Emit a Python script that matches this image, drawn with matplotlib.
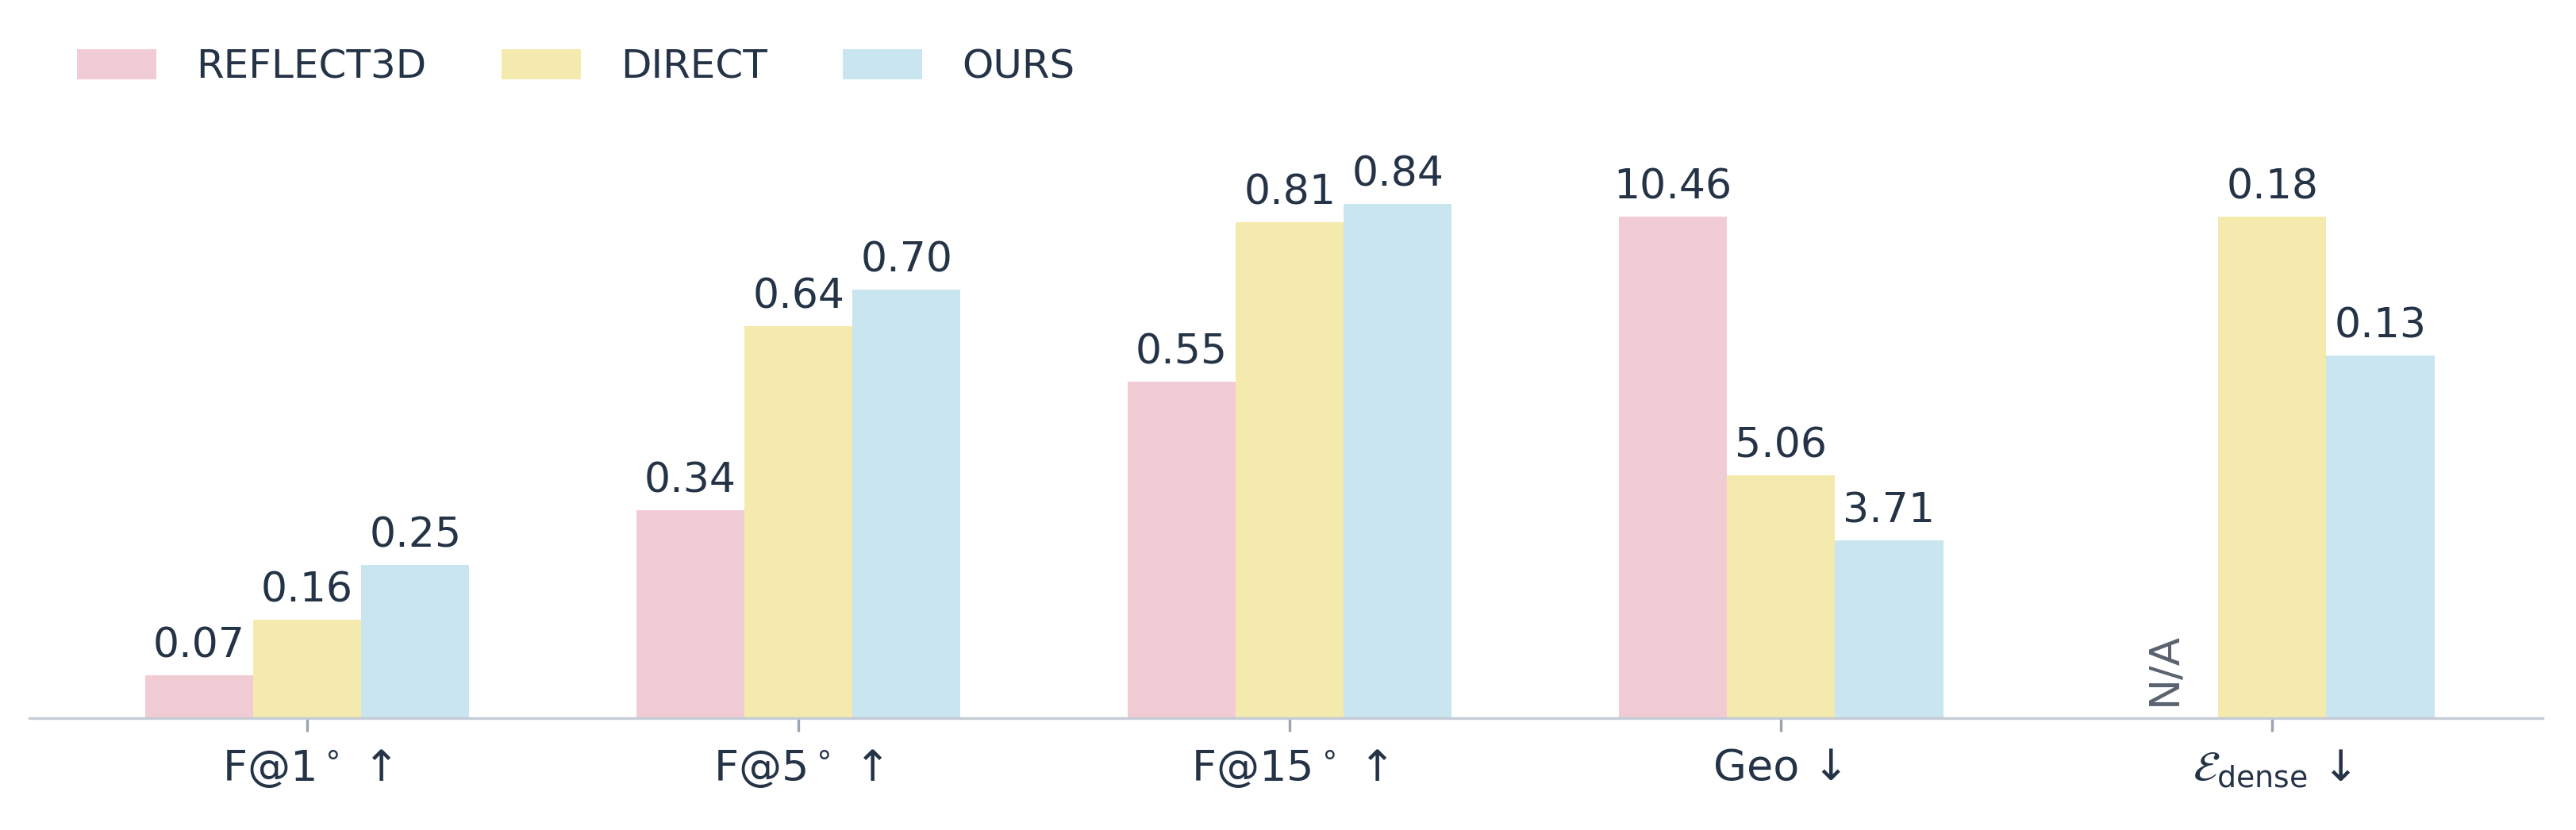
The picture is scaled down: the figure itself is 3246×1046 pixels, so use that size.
import matplotlib
matplotlib.use("Agg")
import matplotlib.pyplot as plt
import numpy as np

categories = [r"F@1$^\circ$ ↑", r"F@5$^\circ$ ↑", r"F@15$^\circ$ ↑", "Geo ↓", r"$\mathcal{E}_{\mathrm{dense}}$ ↓"]
series = ["REFLECT3D", "DIRECT", "OURS"]
reflect3d = [0.07, 0.34, 0.55, 10.46, None]
direct = [0.16, 0.64, 0.81, 5.06, 0.18]
ours = [0.25, 0.70, 0.84, 3.71, 0.13]
labels_fmt = ["{:.2f}"] * 5
# groups drawn on a normalized scale (max shown at 0.82)
normalized = [False, False, False, True, True]
norm_top = 0.82

colors = ["#F2CCD4", "#F4EAAE", "#C9E5EF"]
txt = "#253347"

fig = plt.figure(figsize=(10.82, 3.487), dpi=300)
ax = fig.add_axes([0.0115, 0.135, 0.9755, 0.70])
x = np.arange(len(categories))
w = 0.22
data = [reflect3d, direct, ours]
for gi in range(len(categories)):
    vals = [d[gi] for d in data]
    mx = max(v for v in vals if v is not None)
    for si, v in enumerate(vals):
        xp = x[gi] + (si - 1) * w
        if v is None:
            ax.text(xp, 0.02, "N/A", rotation=90, ha="center", va="bottom",
                    fontsize=12.5, color="#5a6270")
            continue
        h = v / mx * norm_top if normalized[gi] else v
        ax.bar(xp, h, w, color=colors[si], label=series[si] if gi == 0 else None)
        ax.text(xp, h + 0.015, labels_fmt[gi].format(v), ha="center", va="bottom",
                fontsize=12.5, color=txt)

ax.set_xlim(-0.565, 4.55)
ax.set_ylim(0, 0.95)
ax.set_yticks([])
ax.set_xticks(x)
ax.set_xticklabels(categories, fontsize=13, color=txt)
ax.tick_params(axis="x", colors="#9aa3b0", labelcolor=txt, length=4, pad=5)
for s in ["top", "right", "left"]:
    ax.spines[s].set_visible(False)
ax.spines["bottom"].set_color("#c5ccd6")
leg = fig.legend(loc="upper left", bbox_to_anchor=(0.016, 0.985), ncol=3, frameon=False,
                 fontsize=12, handlelength=2.0, handleheight=0.8, columnspacing=1.9,
                 handletextpad=1.0)
for t in leg.get_texts():
    t.set_color(txt)
fig.savefig("out.png", dpi=300)
